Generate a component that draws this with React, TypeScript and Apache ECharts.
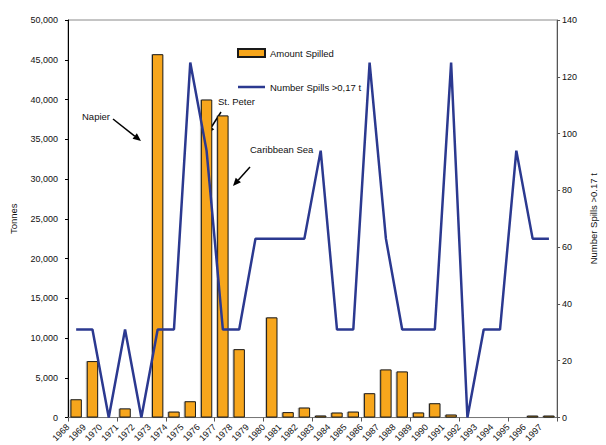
import React, { useEffect, useRef } from "react";
import * as echarts from "echarts";

const years = [
  "1968", "1969", "1970", "1971", "1972", "1973", "1974", "1975", "1976", "1977",
  "1978", "1979", "1980", "1981", "1982", "1983", "1984", "1985", "1986", "1987",
  "1988", "1989", "1990", "1991", "1992", "1993", "1994", "1995", "1996", "1997",
];

const amountSpilled = [
  2300, 7100, 0, 1150, 0, 45700, 750, 2050, 40000, 38000,
  8600, 120, 12600, 680, 1260, 260, 630, 750, 3060, 6050,
  5800, 640, 1800, 380, 0, 0, 0, 120, 250, 250,
];

const numberSpills = [
  31, 31, 0, 31, 0, 31, 31, 125, 94, 31,
  31, 63, 63, 63, 63, 94, 31, 31, 125, 63,
  31, 31, 31, 125, 0, 31, 31, 94, 63, 63,
];

const leftTicks = { min: 0, max: 50000, interval: 5000 };
const rightTicks = { min: 0, max: 140, interval: 20 };

const annotations = [
  { label: "Napier", tx: 82, ty: 117, from: [113, 119], to: [141, 141] },
  { label: "St. Peter", tx: 218, ty: 102, from: [221, 112], to: [207, 134] },
  { label: "Caribbean Sea", tx: 250, ty: 150, from: [250, 167], to: [233, 186] },
];

const FONT = "'Liberation Sans', Arial, Helvetica, sans-serif";
const LINE_ICON =
  "path://M0,0 L28,0 L28,0.01 Z M0,2.8 L28,2.8 L28,5.2 L0,5.2 Z M0,8 L28,8 L28,8.01 Z";

function arrowGraphics(a: { label: string; tx: number; ty: number; from: number[]; to: number[] }) {
  const [x1, y1] = a.from;
  const [x2, y2] = a.to;
  const ang = Math.atan2(y2 - y1, x2 - x1);
  const len = 8;
  const half = 3.5;
  const bx = x2 - len * Math.cos(ang);
  const by = y2 - len * Math.sin(ang);
  const px = -Math.sin(ang) * half;
  const py = Math.cos(ang) * half;
  return [
    {
      type: "text",
      left: a.tx,
      top: a.ty - 6,
      style: { text: a.label, font: `9.5px ${FONT}`, fill: "#111" },
    },
    {
      type: "line",
      shape: { x1, y1, x2: bx, y2: by },
      style: { stroke: "#000", lineWidth: 1.5 },
    },
    {
      type: "polygon",
      shape: { points: [[x2, y2], [bx + px, by + py], [bx - px, by - py]] },
      style: { fill: "#000" },
    },
  ];
}

export default function App() {
  const ref = useRef<HTMLDivElement>(null);
  useEffect(() => {
    if (!ref.current) return;
    const chart = echarts.init(ref.current, null, { renderer: "svg" });
    const graphics: any[] = [];
    annotations.forEach((a) => graphics.push(...arrowGraphics(a)));
    chart.setOption({
      animation: false,
      backgroundColor: "#fff",
      textStyle: { fontFamily: FONT },
      grid: {
        left: 65,
        right: 34,
        top: 20,
        bottom: 27,
        show: true,
        borderColor: "#8a8a8a",
        borderWidth: 1,
        backgroundColor: "transparent",
      },
      legend: {
        orient: "vertical",
        left: 232,
        top: 43,
        itemWidth: 27,
        itemHeight: 8,
        itemGap: 24,
        textStyle: { fontSize: 9.5, color: "#111", fontFamily: FONT },
        data: [
          { name: "Amount Spilled", icon: "rect" },
          { name: "Number Spills >0,17 t", icon: LINE_ICON },
        ],
      },
      xAxis: [
        {
          type: "category",
          data: years,
          boundaryGap: true,
          axisLine: { lineStyle: { color: "#777", width: 1 } },
          axisTick: { show: true, length: 4, lineStyle: { color: "#555" } },
          axisLabel: { show: false },
        },
        {
          type: "value",
          min: 0,
          max: years.length,
          interval: 1,
          position: "bottom",
          axisLine: { show: false },
          axisTick: { show: false },
          splitLine: { show: false },
          axisLabel: {
            rotate: 45,
            margin: 8,
            fontSize: 9,
            color: "#111",
            fontFamily: FONT,
            hideOverlap: false,
            formatter: (v: number) => years[Math.round(v)] ?? "",
          },
        },
      ],
      yAxis: [
        {
          type: "value",
          ...leftTicks,
          name: "Tonnes",
          nameLocation: "middle",
          nameRotate: 90,
          nameGap: 50,
          nameTextStyle: { fontSize: 9.5, color: "#111", fontFamily: FONT },
          axisLine: { show: true, lineStyle: { color: "#000", width: 1 } },
          axisTick: { show: true, length: 3, lineStyle: { color: "#000" } },
          splitLine: { show: false },
          axisLabel: {
            fontSize: 9,
            color: "#111",
            margin: 10,
            fontFamily: FONT,
            formatter: (v: number) => v.toLocaleString("en-US"),
          },
        },
        {
          type: "value",
          ...rightTicks,
          position: "right",
          name: "Number Spills >0.17 t",
          nameLocation: "middle",
          nameRotate: 90,
          nameGap: 28,
          nameTextStyle: { fontSize: 9.5, color: "#111", fontFamily: FONT },
          axisLine: { show: true, lineStyle: { color: "#555", width: 1 } },
          axisTick: { show: true, length: 3, lineStyle: { color: "#555" } },
          splitLine: { show: false },
          axisLabel: { fontSize: 9, color: "#111", margin: 5, fontFamily: FONT },
        },
      ],
      series: [
        {
          name: "Amount Spilled",
          type: "bar",
          xAxisIndex: 0,
          yAxisIndex: 0,
          data: amountSpilled,
          barCategoryGap: "30%",
          itemStyle: {
            color: "#F7A61B",
            borderColor: "#1a1a1a",
            borderWidth: 1,
            shadowColor: "rgba(0,0,0,0.22)",
            shadowOffsetX: -1,
            shadowOffsetY: 0,
            shadowBlur: 0,
          },
        },
        {
          name: "Number Spills >0,17 t",
          type: "line",
          xAxisIndex: 0,
          yAxisIndex: 1,
          data: numberSpills,
          symbol: "none",
          showSymbol: false,
          lineStyle: { color: "#2B3990", width: 2.5 },
          itemStyle: { color: "#2B3990" },
          z: 3,
        },
      ],
      graphic: graphics,
    });
    return () => chart.dispose();
  }, []);
  return (
    <div
      ref={ref}
      style={{ position: "fixed", left: 0, top: 0, width: 606, height: 445 }}
    />
  );
}
